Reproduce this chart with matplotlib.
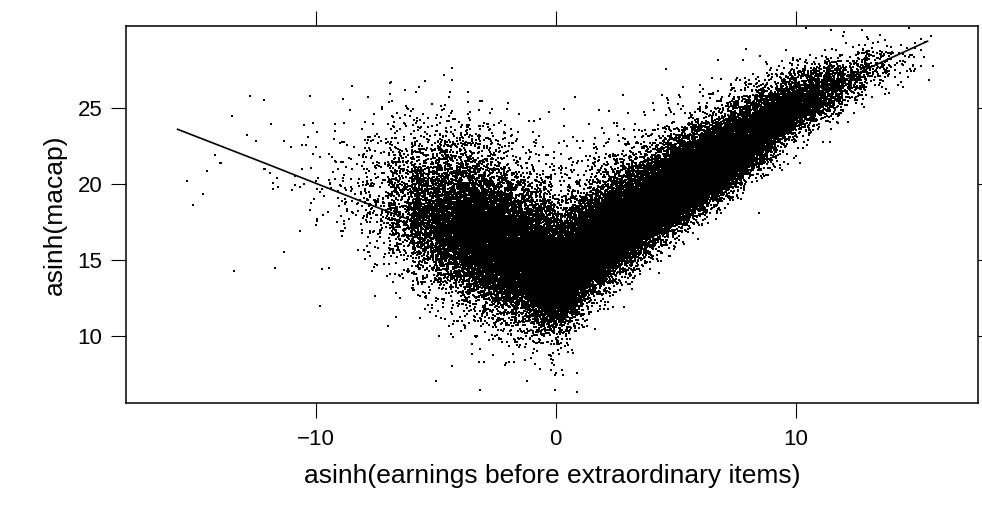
import numpy as np
import matplotlib
matplotlib.use("Agg")
import matplotlib.pyplot as plt

plt.rcParams["font.family"] = ["Liberation Sans", "DejaVu Sans"]

# number of firms per unit-wide bin of asinh(earnings), bins start at these edges
bin_left = np.arange(-16, 16)
bin_count = [2, 3, 4, 6, 10, 18, 35, 70, 180, 500, 1200, 2100, 2900, 3500, 3900, 4300,
             4600, 4300, 4100, 4000, 4000, 3900, 3600, 3100, 2500, 1800, 1100, 600, 280, 110, 35, 8]

# location and spread of asinh(macap) along the x axis
knot_x = [-16, -12, -9, -7, -5, -3, -1.5, -0.3, 0.3, 0.8, 1.3, 2, 3, 5, 7, 10, 13, 16]
knot_center = [21.0, 20.8, 20.0, 19.0, 17.8, 16.6, 15.3, 14.0, 13.8, 14.5, 15.2, 16.2, 17.2,
               19.5, 21.6, 25.2, 27.4, 29.0]
knot_sd_lo = [2.3, 2.3, 2.2, 2.1, 2.0, 2.0, 1.8, 1.5, 1.4, 1.3, 1.2, 1.2, 1.1, 1.0, 1.0, 0.9, 0.8, 0.8]
knot_sd_hi = [2.8, 2.8, 2.8, 2.6, 2.4, 2.3, 2.2, 2.2, 2.1, 2.0, 1.9, 1.8, 1.7, 1.55, 1.3, 0.95, 0.75, 0.7]

# smoother through the cloud
smooth_x = [-15.75, -12, -8, -5, -3, -1, 0, 1, 3, 6, 10, 13, 15.5]
smooth_y = [23.6, 21.3, 18.8, 17.0, 15.6, 14.2, 14.0, 15.5, 17.5, 20.6, 25.2, 27.6, 29.4]

rng = np.random.default_rng(7)
xs, ys = [], []
for left, n in zip(bin_left, bin_count):
    x = left + rng.random(n)
    c = np.interp(x, knot_x, knot_center)
    lo = np.interp(x, knot_x, knot_sd_lo)
    hi = np.interp(x, knot_x, knot_sd_hi)
    z = rng.standard_t(14, n)
    y = c + np.where(z < 0, z * lo, z * hi)
    xs.append(x)
    ys.append(y)
xs = np.concatenate(xs)
ys = np.concatenate(ys)

fig = plt.figure(figsize=(9.82, 5.14), dpi=100)
ax = fig.add_axes([0.1283, 0.2165, 0.8676, 0.7329])
ax.scatter(xs, ys, s=1.6, marker="s", c="black", linewidths=0)
ax.plot(smooth_x, smooth_y, color="black", lw=1.2)

ax.set_xlim(-17.9, 17.6)
ax.set_ylim(5.6, 30.4)
ax.set_xticks([-10, 0, 10])
ax.set_xticklabels(["\u221210", "0", "10"])
ax.set_yticks([10, 15, 20, 25])
ax.tick_params(direction="out", length=11, width=0.8, labelsize=16, pad=8,
               top=True, right=True, labeltop=False, labelright=False)
ax.tick_params(axis="y", pad=6)
for s in ax.spines.values():
    s.set_linewidth(1.1)

ax.set_xlabel("asinh(earnings before extraordinary items)", fontsize=19, labelpad=10)
ax.set_ylabel("asinh(macap)", fontsize=19, labelpad=8)

fig.savefig("out.png", dpi=100)
